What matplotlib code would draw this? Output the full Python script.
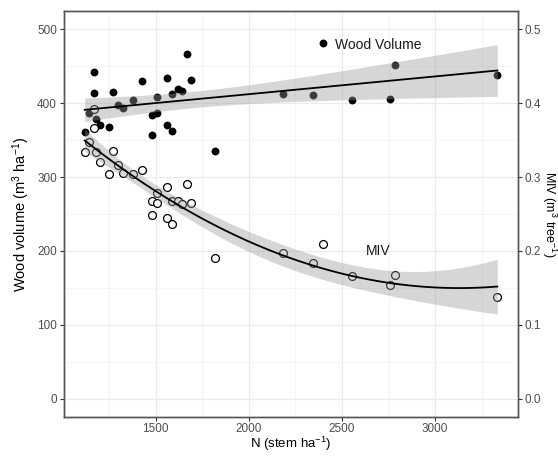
import matplotlib
matplotlib.use("Agg")
import matplotlib.pyplot as plt
import numpy as np
from matplotlib.ticker import MultipleLocator

plt.rcParams['font.family'] = ['Liberation Sans', 'DejaVu Sans']
plt.rcParams['mathtext.default'] = 'regular'

# stand density (stem/ha), one entry per stand
stems = [1120, 1145, 1170, 1170, 1178, 1200, 1250, 1274, 1298, 1325, 1378,
         1429, 1482, 1482, 1510, 1510, 1562, 1562, 1589, 1589, 1618, 1643,
         1668, 1691, 1821, 2185, 2345, 2397, 2553, 2758, 2785, 3333]
# wood volume (m3/ha)
wood_vol = [361, 387, 442, 414, 379, 370, 368, 415, 398, 393, 404,
            430, 384, 357, 408, 387, 434, 371, 412, 363, 419, 416,
            467, 432, 335, 413, 411, 482, 405, 406, 452, 438]
# mean individual volume (m3/tree)
miv = [0.334, 0.348, 0.392, 0.366, 0.334, 0.320, 0.304, 0.335, 0.317, 0.306, 0.304,
       0.310, 0.267, 0.249, 0.279, 0.265, 0.287, 0.245, 0.267, 0.236, 0.268, 0.263,
       0.291, 0.265, 0.191, 0.197, 0.184, 0.210, 0.166, 0.154, 0.168, 0.137]

x = np.array(stems, dtype=float)
wv = np.array(wood_vol, dtype=float)
mv = np.array(miv, dtype=float) * 1000  # MIV on the left scale (x1000)


def smooth(xd, yd, deg, t_crit, n=80):
    # lm fit of degree deg with 95% confidence band (like geom_smooth)
    xs = np.linspace(xd.min(), xd.max(), n)
    u = (xd - 2000) / 1000
    us = (xs - 2000) / 1000
    X = np.vander(u, deg + 1)
    Xs = np.vander(us, deg + 1)
    coef = np.linalg.lstsq(X, yd, rcond=None)[0]
    resid = yd - X @ coef
    s2 = resid @ resid / (len(xd) - deg - 1)
    XtXi = np.linalg.inv(X.T @ X)
    se = np.sqrt(np.einsum('ij,jk,ik->i', Xs, XtXi, Xs) * s2)
    fit = Xs @ coef
    return xs, fit, fit - t_crit * se, fit + t_crit * se


fig = plt.figure(figsize=(5.58, 4.57), dpi=100)
ax = fig.add_axes([0.1147, 0.0875, 0.8136, 0.8885])

ax.scatter(x, wv, s=32, c='black', zorder=3, linewidths=0)
ax.scatter(x, mv, s=32, facecolors='white', edgecolors='black', linewidths=0.9, zorder=3)

xs, f1, lo1, hi1 = smooth(x, wv, 1, 2.042)
xs2, f2, lo2, hi2 = smooth(x, mv, 2, 2.045)
for xx, f, lo, hi in [(xs, f1, lo1, hi1), (xs2, f2, lo2, hi2)]:
    ax.fill_between(xx, lo, hi, color='#999999', alpha=0.4, linewidth=0, zorder=4)
    ax.plot(xx, f, color='black', lw=1.3, zorder=5)

ax.text(2460, 479, 'Wood Volume', fontsize=10, color='#1a1a1a', va='center', ha='left')
ax.text(2694, 200, 'MIV', fontsize=10, color='#1a1a1a', va='center', ha='center')

ax.set_xlim(1009, 3444)
ax.set_ylim(-25, 525)
ax.set_xticks([1500, 2000, 2500, 3000])
ax.set_yticks([0, 100, 200, 300, 400, 500])
ax.xaxis.set_minor_locator(MultipleLocator(250))
ax.yaxis.set_minor_locator(MultipleLocator(50))
ax.grid(which='major', color='#EBEBEB', lw=0.9, zorder=0)
ax.grid(which='minor', color='#F2F2F2', lw=0.5, zorder=0)
ax.set_axisbelow(True)
ax.tick_params(which='minor', length=0)
ax.tick_params(which='major', length=3, color='#333333', labelsize=8.5,
               labelcolor='#4D4D4D', pad=2)
ax.tick_params(axis='x', pad=1.5)
for s in ax.spines.values():
    s.set_color('#555555')
    s.set_linewidth(1)

ax.set_xlabel(r'N (stem ha$^{-1}$)', fontsize=9.5, labelpad=0)
ax.set_ylabel(r'Wood volume (m$^{3}$ ha$^{-1}$)', fontsize=10.5, labelpad=4)

ax2 = ax.twinx()
ax2.set_ylim(-0.025, 0.525)
ax2.set_yticks([0.0, 0.1, 0.2, 0.3, 0.4, 0.5])
ax2.set_yticklabels(['0.0', '0.1', '0.2', '0.3', '0.4', '0.5'])
ax2.tick_params(length=3, color='#333333', labelsize=8.5, labelcolor='#4D4D4D', pad=2)
for s in ax2.spines.values():
    s.set_color('#555555')
    s.set_linewidth(1)
ax2.set_ylabel(r'MIV (m$^{3}$ tree$^{-1}$)', fontsize=9, rotation=270,
               va='center', ha='center')
ax2.yaxis.set_label_coords(1.068, 0.5)

fig.savefig('out.png', dpi=100)
